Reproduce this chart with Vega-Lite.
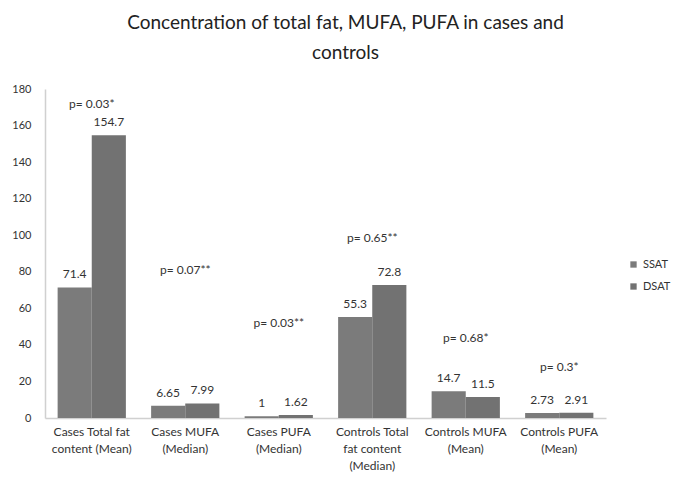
{
  "$schema": "https://vega.github.io/schema/vega-lite/v6.json",
  "autosize": "none",
  "width": 561,
  "height": 329,
  "padding": {"left": 45, "top": 89, "right": 79, "bottom": 72},
  "background": "white",
  "title": {
    "text": ["Concentration of total fat, MUFA, PUFA in cases and", "controls"],
    "font": "Lato",
    "fontSize": 19,
    "fontWeight": "normal",
    "color": "#222222",
    "lineHeight": 30,
    "anchor": "middle",
    "frame": "group",
    "dx": 20,
    "offset": 20
  },
  "datasets": {
    "bars": [
      {"group": "Cases Total fat|content (Mean)", "series": "SSAT", "value": 71.4, "label": "71.4"},
      {"group": "Cases Total fat|content (Mean)", "series": "DSAT", "value": 154.7, "label": "154.7"},
      {"group": "Cases MUFA|(Median)", "series": "SSAT", "value": 6.65, "label": "6.65"},
      {"group": "Cases MUFA|(Median)", "series": "DSAT", "value": 7.99, "label": "7.99"},
      {"group": "Cases PUFA|(Median)", "series": "SSAT", "value": 1, "label": "1"},
      {"group": "Cases PUFA|(Median)", "series": "DSAT", "value": 1.62, "label": "1.62"},
      {"group": "Controls Total|fat content|(Median)", "series": "SSAT", "value": 55.3, "label": "55.3"},
      {"group": "Controls Total|fat content|(Median)", "series": "DSAT", "value": 72.8, "label": "72.8"},
      {"group": "Controls MUFA|(Mean)", "series": "SSAT", "value": 14.7, "label": "14.7"},
      {"group": "Controls MUFA|(Mean)", "series": "DSAT", "value": 11.5, "label": "11.5"},
      {"group": "Controls PUFA|(Mean)", "series": "SSAT", "value": 2.73, "label": "2.73"},
      {"group": "Controls PUFA|(Mean)", "series": "DSAT", "value": 2.91, "label": "2.91"}
    ],
    "pvals": [
      {"group": "Cases Total fat|content (Mean)", "p": "p= 0.03*", "at": 172},
      {"group": "Cases MUFA|(Median)", "p": "p= 0.07**", "at": 81},
      {"group": "Cases PUFA|(Median)", "p": "p= 0.03**", "at": 52},
      {"group": "Controls Total|fat content|(Median)", "p": "p= 0.65**", "at": 98.5},
      {"group": "Controls MUFA|(Mean)", "p": "p= 0.68*", "at": 44},
      {"group": "Controls PUFA|(Mean)", "p": "p= 0.3*", "at": 28}
    ]
  },
  "config": {
    "view": {"stroke": null},
    "font": "Lato",
    "axis": {"labelFont": "Lato", "titleFont": "Lato"},
    "axisY": {
      "values": [0, 20, 40, 60, 80, 100, 120, 140, 160, 180],
      "labelOverlap": false, "labelFlush": false,
      "grid": false, "ticks": false, "labelFontSize": 11, "labelColor": "#333333",
      "labelPadding": 14, "domainColor": "#d0d0d0", "domainWidth": 1.5, "title": null
    },
    "legend": {"labelFont": "Lato"}
  },
  "layer": [
    {
      "data": {"name": "bars"},
      "mark": {"type": "bar"},
      "encoding": {
        "x": {
          "field": "group", "type": "nominal", "sort": null,
          "scale": {"paddingInner": 0.27, "paddingOuter": 0.135},
          "axis": {
            "title": null, "labelAngle": 0, "labelExpr": "split(datum.value, '|')",
            "labelFontSize": 12, "labelColor": "#333333", "labelLineHeight": 17,
            "ticks": false, "labelPadding": 8, "domainColor": "#d0d0d0", "domainWidth": 1.5
          }
        },
        "xOffset": {"field": "series", "type": "nominal", "sort": ["SSAT", "DSAT"], "scale": {"paddingInner": 0, "paddingOuter": 0}},
        "y": {
          "field": "value", "type": "quantitative", "title": null,
          "scale": {"domain": [0, 180], "nice": false},
          "axis": {"values": [0, 20, 40, 60, 80, 100, 120, 140, 160, 180], "labelOverlap": false}
        },
        "color": {
          "field": "series", "type": "nominal", "sort": ["SSAT", "DSAT"],
          "scale": {"domain": ["SSAT", "DSAT"], "range": ["#7b7b7b", "#727272"]},
          "legend": {
            "title": null, "orient": "none", "legendX": 583, "legendY": 170,
            "symbolType": "square", "symbolSize": 40, "labelFontSize": 11,
            "labelColor": "#333333", "rowPadding": 10, "symbolStrokeWidth": 0
          }
        }
      }
    },
    {
      "data": {"name": "bars"},
      "mark": {"type": "text", "baseline": "bottom", "dy": -6, "fontSize": 12, "color": "#333333"},
      "encoding": {
        "x": {"field": "group", "type": "nominal", "sort": null},
        "xOffset": {"field": "series", "type": "nominal", "sort": ["SSAT", "DSAT"]},
        "y": {"field": "value", "type": "quantitative", "title": null, "axis": {"values": [0, 20, 40, 60, 80, 100, 120, 140, 160, 180], "labelOverlap": false}},
        "text": {"field": "label"}
      }
    },
    {
      "data": {"name": "pvals"},
      "mark": {"type": "text", "baseline": "middle", "fontSize": 12, "color": "#333333"},
      "encoding": {
        "x": {"field": "group", "type": "nominal", "sort": null},
        "y": {"field": "at", "type": "quantitative", "title": null, "axis": {"values": [0, 20, 40, 60, 80, 100, 120, 140, 160, 180], "labelOverlap": false}},
        "text": {"field": "p"}
      }
    }
  ]
}
